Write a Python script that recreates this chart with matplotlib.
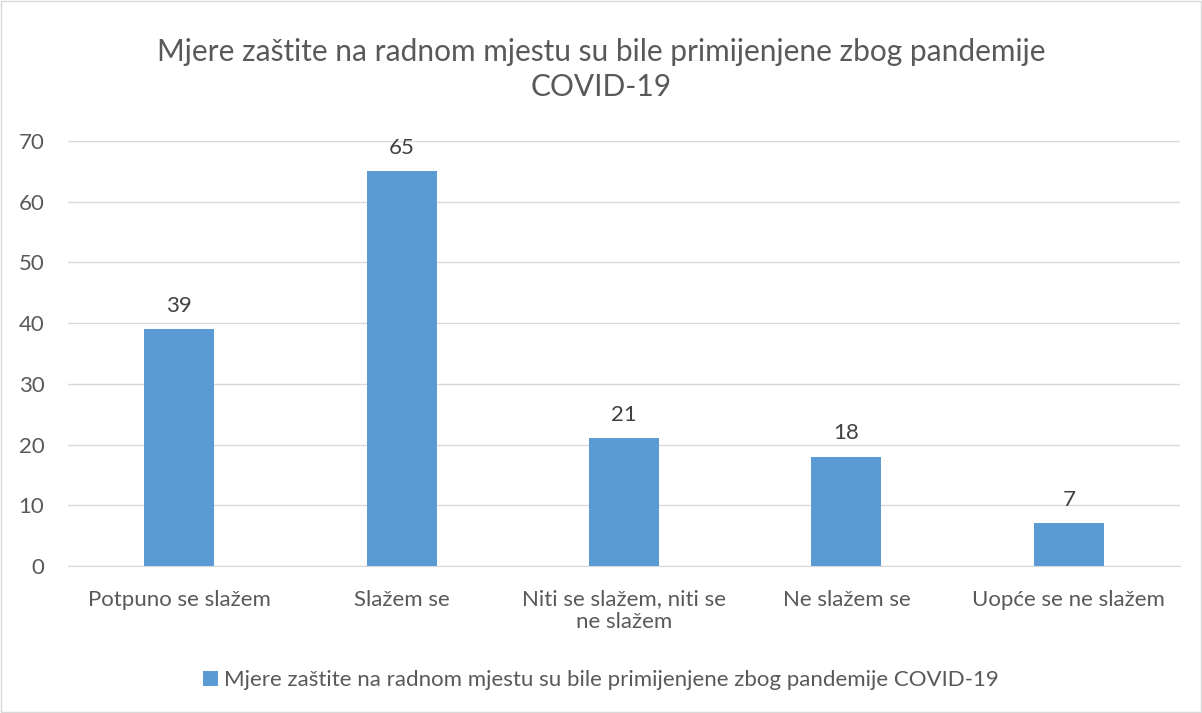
import matplotlib.pyplot as plt
from matplotlib.patches import Rectangle

plt.rcParams['font.family'] = ['Lato', 'DejaVu Sans']

categories = ['Potpuno se slažem', 'Slažem se', 'Niti se slažem, niti se\nne slažem',
              'Ne slažem se', 'Uopće se ne slažem']
values = [39, 65, 21, 18, 7]
series_name = 'Mjere zaštite na radnom mjestu su bile primijenjene zbog pandemije COVID-19'
title = 'Mjere zaštite na radnom mjestu su bile primijenjene zbog pandemije\nCOVID-19'

text_color = '#595959'
bar_color = '#5B9BD5'

fig = plt.figure(figsize=(12.02, 7.13), dpi=100)
ax = fig.add_axes([0.0566, 0.2062, 0.9251, 0.596])

x = range(len(categories))
bars = ax.bar(x, values, width=0.315, color=bar_color, label=series_name, zorder=3)

for b, v in zip(bars, values):
    ax.text(b.get_x() + b.get_width() / 2, v + 2.2, str(v), ha='center', va='bottom',
            fontsize=16, color='#404040')

ax.set_xlim(-0.5, len(categories) - 0.5)
ax.set_ylim(0, 70)
ax.set_yticks(range(0, 71, 10))
ax.set_xticks(list(x))
ax.set_xticklabels(categories, fontsize=16, color=text_color, linespacing=1.15)
ax.tick_params(axis='y', labelsize=16, labelcolor=text_color, length=0, pad=17)
ax.tick_params(axis='x', length=0, pad=17)
ax.grid(axis='y', color='#D9D9D9', linewidth=1, zorder=0)
for s in ['top', 'right', 'left']:
    ax.spines[s].set_visible(False)
ax.spines['bottom'].set_color('#D9D9D9')

fig.text(0.5, 0.903, title, ha='center', va='center', fontsize=21.5, color=text_color,
         linespacing=1.3)

leg = fig.legend(loc='center', bbox_to_anchor=(0.5, 0.046), frameon=False, fontsize=16,
                 handlelength=0.65, handleheight=0.65, handletextpad=0.3)
for t in leg.get_texts():
    t.set_color(text_color)

fig.patches.append(Rectangle((0.001, 0.001), 0.998, 0.998, transform=fig.transFigure,
                             fill=False, edgecolor='#D9D9D9', linewidth=1))

fig.savefig('out.png', dpi=100)
